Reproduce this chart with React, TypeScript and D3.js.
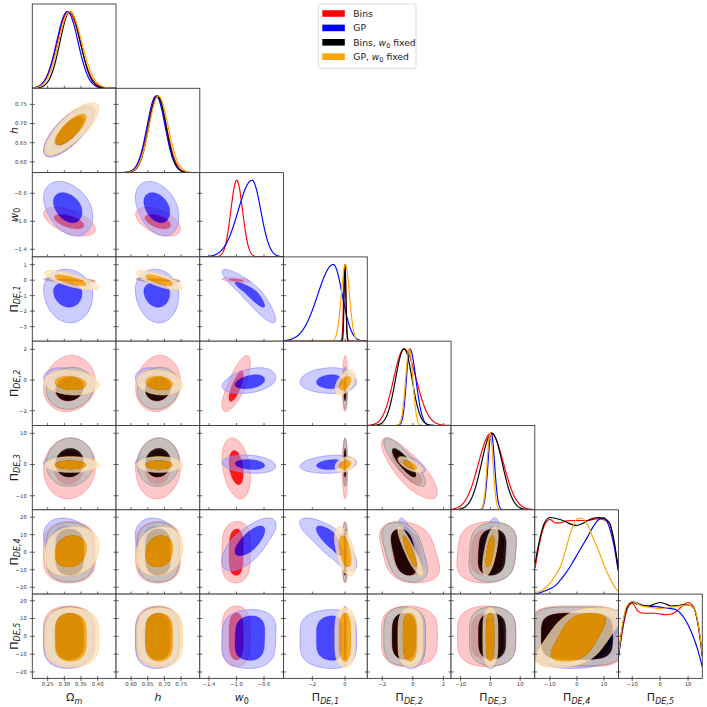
import React from 'react';
import * as d3 from 'd3';

// ---------------- data ----------------
const PARAM_KEYS = ['Om', 'h', 'w0', 'P1', 'P2', 'P3', 'P4', 'P5'];
const X_DOMAINS: [number, number][] = [
  [0.204, 0.455], [0.555, 0.806], [-1.534, -0.316], [-3.76, 1.36],
  [-2.98, 2.5], [-13.2, 14.9], [-15.6, 15.4], [-14.9, 15.1],
];
const Y_DOMAINS: ([number, number] | null)[] = [
  null, [0.572, 0.792], [-1.509, -0.304], [-3.94, 1.5],
  [-2.96, 2.53], [-14.5, 12.5], [-23.9, 24.2], [-23.6, 23.7],
];
const X_TICKS = [
  [0.25, 0.3, 0.35, 0.4], [0.6, 0.65, 0.7, 0.75], [-1.4, -1.0, -0.6], [-2, 0],
  [-2, 0, 2], [-10, 0, 10], [-10, 0, 10], [-10, 0, 10],
];
const Y_TICKS = [
  [], [0.6, 0.65, 0.7, 0.75], [-1.4, -1.0, -0.6], [-3, -2, -1, 0, 1],
  [-2, 0, 2], [-10, 0, 10], [-20, -10, 0, 10, 20], [-20, -10, 0, 10, 20],
];
const TICK_DECIMALS = [2, 2, 1, 0, 0, 0, 0, 0];

const SERIES_NAMES = ['Bins', 'GP', 'Bins, w0 fixed', 'GP, w0 fixed'];

// 1D marginals (mode, sigma left, sigma right) for the smooth parameters
const PEAK_BINS = [[0.312, 0.033, 0.035], [0.678, 0.028, 0.028], [-0.997, 0.085, 0.085], [-0.02, 0.07, 0.07], [-0.57, 0.69, 0.79], [0.2, 4.2, 4.2]];
const PEAK_GP = [[0.309, 0.032, 0.032], [0.675, 0.027, 0.027], [-0.775, 0.2, 0.128], [-0.72, 0.95, 0.55], [-0.2, 0.22, 0.4], [0.3, 1.1, 1.1]];
const PEAK_BINS_FIXED = [[0.317, 0.03, 0.031], [0.679, 0.026, 0.026], null, [0.0, 0.055, 0.055], [-0.57, 0.56, 0.52], [0.5, 3.5, 3.5]];
const PEAK_GP_FIXED = [[0.316, 0.033, 0.036], [0.682, 0.028, 0.029], null, [0.02, 0.25, 0.25], [-0.23, 0.24, 0.23], [-0.1, 1.0, 1.0]];

// 1D marginals read point by point for the flat parameters
const GRID_P4 = [-15.5, -13.5, -12, -10, -8, -6, -4, -2, 0, 2, 4, 6, 8, 10, 12, 13.5, 15.3];
const P4_BINS = [0.34, 0.72, 0.9, 0.975, 0.93, 0.93, 0.955, 0.96, 0.96, 0.96, 0.96, 0.975, 0.985, 0.97, 0.93, 0.72, 0.32];
const P4_GP = [0.0, 0.02, 0.04, 0.07, 0.11, 0.19, 0.28, 0.39, 0.51, 0.63, 0.75, 0.88, 0.97, 0.995, 0.87, 0.67, 0.3];
const P4_BINS_FIXED = [0.4, 0.76, 0.93, 1.0, 0.99, 0.97, 0.94, 0.91, 0.895, 0.92, 0.96, 0.99, 1.0, 0.99, 0.93, 0.74, 0.33];
const P4_GP_FIXED = [0.02, 0.04, 0.07, 0.14, 0.24, 0.37, 0.6, 0.84, 0.98, 0.99, 0.9, 0.73, 0.57, 0.38, 0.22, 0.12, 0.03];

const GRID_P5 = [-14.9, -13.5, -12, -10, -8, -6, -4, -2, 0, 2, 4, 6, 8, 10, 12, 13.5, 15.1];
const P5_BINS = [0.29, 0.62, 0.88, 0.98, 0.88, 0.85, 0.85, 0.85, 0.84, 0.83, 0.84, 0.88, 0.95, 0.99, 0.93, 0.72, 0.29];
const P5_GP = [0.29, 0.66, 0.92, 1.0, 0.98, 0.95, 0.94, 0.94, 0.93, 0.92, 0.91, 0.89, 0.82, 0.7, 0.53, 0.37, 0.15];
const P5_BINS_FIXED = [0.31, 0.68, 0.92, 0.99, 0.97, 0.95, 0.945, 0.97, 0.99, 0.97, 0.945, 0.95, 0.96, 0.96, 0.92, 0.72, 0.3];
const P5_GP_FIXED = [0.32, 0.7, 0.94, 1.0, 0.97, 0.94, 0.93, 0.92, 0.91, 0.92, 0.93, 0.94, 0.95, 0.96, 0.92, 0.74, 0.32];

// 2D contours: centre, 68% half-widths (low, high), 95% half-widths (low, high), squareness
const CONT_BINS = [
  [0.313, 0.044, 0.046, 0.075, 0.08, 2], [0.68, 0.039, 0.039, 0.066, 0.068, 2],
  [-1.0, 0.11, 0.1, 0.21, 0.2, 2], [0.0, 0.09, 0.09, 0.16, 0.16, 2],
  [-0.4, 1.0, 1.0, 1.65, 2.0, 2], [-1.0, 5.5, 5.5, 10.0, 9.5, 2],
  [0, 13.3, 13.3, 17.5, 17.5, 4], [0, 13.3, 13.3, 17, 17, 4],
];
const CONT_GP = [
  [0.31, 0.043, 0.043, 0.072, 0.075, 2], [0.677, 0.039, 0.039, 0.064, 0.066, 2],
  [-0.79, 0.23, 0.2, 0.42, 0.36, 2], [-0.75, 1.0, 0.62, 2.0, 1.45, 2],
  [-0.15, 0.42, 0.5, 0.72, 0.95, 2], [0.0, 1.6, 1.6, 2.8, 3.0, 2],
  [6.5, 8.5, 8.5, 17, 13, 2.2], [-1, 12.5, 12.5, 17, 16, 4],
];
const CONT_BINS_FIXED = [
  [0.316, 0.042, 0.042, 0.07, 0.072, 2], [0.681, 0.038, 0.038, 0.062, 0.063, 2],
  null, [0.0, 0.07, 0.07, 0.13, 0.13, 2],
  [-0.55, 0.8, 0.75, 1.35, 1.38, 2], [0.5, 4.5, 4.7, 7.5, 8, 2],
  [0, 13.2, 13.2, 17, 17, 4], [0, 13, 13, 16.5, 16.5, 4],
];
const CONT_GP_FIXED = [
  [0.318, 0.046, 0.048, 0.077, 0.085, 2], [0.684, 0.04, 0.041, 0.067, 0.07, 2],
  null, [0.0, 0.36, 0.36, 0.62, 0.62, 2],
  [-0.2, 0.45, 0.45, 0.77, 0.85, 2], [-0.1, 1.4, 1.4, 2.4, 2.6, 2],
  [0.5, 9, 9, 14, 14, 2.5], [-0.5, 13.5, 13.5, 16.8, 16.5, 4],
];

// correlations (row parameter vs column parameter)
const RHO_BINS = [
  [], [0.75], [-0.55, -0.5], [-0.4, -0.4, -0.5], [0.1, 0.1, 0.75, 0.0],
  [0.05, 0.05, -0.3, 0.0, -0.8], [0, 0, 0.05, 0, -0.3, 0.1], [0, 0, 0, 0, 0, 0, 0],
];
const RHO_GP = [
  [], [0.72], [-0.35, -0.35], [-0.1, -0.1, -0.9], [-0.3, -0.3, 0.35, 0.0],
  [-0.15, -0.15, -0.2, 0.2, -0.6], [-0.2, -0.2, 0.7, -0.8, -0.85, 0.5], [0, 0, 0.05, 0, 0, 0, 0.5],
];
const RHO_BINS_FIXED = [
  [], [0.75], [0, 0], [-0.5, -0.5, 0], [0.1, 0.1, 0, 0.0],
  [0.05, 0.05, 0, 0.0, -0.85], [0, 0, 0, 0, -0.4, 0.1], [0, 0, 0, 0, 0, 0, 0],
];
const RHO_GP_FIXED = [
  [], [0.78], [0, 0], [-0.75, -0.75, 0], [-0.15, -0.15, 0, 0.5],
  [0, 0, 0, 0.3, -0.7], [0.15, 0.15, 0, -0.5, -0.9, 0.6], [0, 0, 0, 0, 0, 0, 0.55],
];

const PEAKS = [PEAK_BINS, PEAK_GP, PEAK_BINS_FIXED, PEAK_GP_FIXED];
const P4_CURVES = [P4_BINS, P4_GP, P4_BINS_FIXED, P4_GP_FIXED];
const P5_CURVES = [P5_BINS, P5_GP, P5_BINS_FIXED, P5_GP_FIXED];
const CONTS = [CONT_BINS, CONT_GP, CONT_BINS_FIXED, CONT_GP_FIXED];
const RHOS = [RHO_BINS, RHO_GP, RHO_BINS_FIXED, RHO_GP_FIXED];

// ---------------- style ----------------
const LEFT = 32.3, TOP = 4, CW = 83.75, CH = 84.3;
const LINE_COL = ['#ff0000', '#0000ff', '#000000', '#ffa500'];
const PALE_COL = ['#ff9999', '#9999ff', '#bdbdbd', '#ffe6bd'];
const EDGE_COL = ['#ff8a8a', '#8a8aff', '#8a8a8a', '#ffcf80'];
const A_OUT = [0.55, 0.5, 0.8, 0.75];
const A_IN = [0.9, 0.72, 0.87, 0.85];
const FRAME = '#3a3a3a';
const FONT = "'DejaVu Sans', sans-serif";

const fmt = (v: number, d: number) => (v < 0 ? '\u2212' : '') + Math.abs(v).toFixed(d);

function labelTspans(k: number, sub: number) {
  const key = PARAM_KEYS[k];
  if (key === 'Om') return [<tspan key="a">Ω</tspan>, <tspan key="b" fontStyle="italic" fontSize={sub} dy={2.5}>m</tspan>];
  if (key === 'h') return [<tspan key="a" fontStyle="italic">h</tspan>];
  if (key === 'w0') return [<tspan key="a" fontStyle="italic">w</tspan>, <tspan key="b" fontSize={sub} dy={2.5}>0</tspan>];
  return [<tspan key="a">Π</tspan>, <tspan key="b" fontStyle="italic" fontSize={sub} dy={2.5}>{'DE,' + key.slice(1)}</tspan>];
}

function oneD(s: number, k: number): [number, number][] | null {
  if (k === 6) return GRID_P4.map((x, i) => [x, P4_CURVES[s][i]]);
  if (k === 7) return GRID_P5.map((x, i) => [x, P5_CURVES[s][i]]);
  const pk = PEAKS[s][k];
  if (!pk) return null;
  const [m, sl, sr] = pk;
  const dom = X_DOMAINS[k];
  return d3.range(401).map((i) => {
    const x = dom[0] + ((dom[1] - dom[0]) * i) / 400;
    const sg = x < m ? sl : sr;
    return [x, Math.exp(-0.5 * ((x - m) / sg) ** 2)] as [number, number];
  });
}

function contour(cx: number[], cy: number[], rho: number, level: number): [number, number][] {
  const [mx, lx68, hx68, lx95, hx95, px] = cx;
  const [my, ly68, hy68, ly95, hy95, py] = cy;
  const lx = level ? lx95 : lx68, hx = level ? hx95 : hx68;
  const ly = level ? ly95 : ly68, hy = level ? hy95 : hy68;
  const r = Math.sqrt(1 - rho * rho);
  return d3.range(160).map((i) => {
    const th = (2 * Math.PI * i) / 160;
    const c = Math.cos(th), s = Math.sin(th);
    const a = Math.sign(c) * Math.pow(Math.abs(c), 2 / px);
    const b = Math.sign(s) * Math.pow(Math.abs(s), 2 / py);
    const u = r * a + rho * b;
    const v = b;
    return [mx + (u < 0 ? u * lx : u * hx), my + (v < 0 ? v * ly : v * hy)] as [number, number];
  });
}

export default function App() {
  const n = PARAM_KEYS.length;
  const panels: React.ReactNode[] = [];
  const defs: React.ReactNode[] = [];

  for (let i = 0; i < n; i++) {
    for (let j = 0; j <= i; j++) {
      const x0 = LEFT + j * CW, y0 = TOP + i * CH;
      const xs = d3.scaleLinear().domain(X_DOMAINS[j]).range([x0, x0 + CW]);
      const id = `clip-${i}-${j}`;
      defs.push(<clipPath id={id} key={id}><rect x={x0} y={y0} width={CW} height={CH} /></clipPath>);
      const content: React.ReactNode[] = [];
      if (i === j) {
        const ys = d3.scaleLinear().domain([0, 1.1]).range([y0 + CH, y0]);
        const curve = i >= 6 ? d3.curveMonotoneX : d3.curveLinear;
        const line = d3.line<[number, number]>().x((d) => xs(d[0])).y((d) => ys(d[1])).curve(curve);
        for (let s = 0; s < 4; s++) {
          const pts = oneD(s, i);
          if (!pts) continue;
          content.push(<path key={s} d={line(pts) || ''} fill="none" stroke={LINE_COL[s]} strokeWidth={1.15} />);
        }
      } else {
        const ys = d3.scaleLinear().domain(Y_DOMAINS[i] as [number, number]).range([y0 + CH, y0]);
        const line = d3.line<[number, number]>().x((d) => xs(d[0])).y((d) => ys(d[1])).curve(d3.curveLinearClosed);
        for (let s = 0; s < 4; s++) {
          const cx = CONTS[s][j], cy = CONTS[s][i];
          if (!cx || !cy) continue;
          const rho = RHOS[s][i][j];
          const outer = line(contour(cx as number[], cy as number[], rho, 1)) || '';
          const inner = line(contour(cx as number[], cy as number[], rho, 0)) || '';
          content.push(
            <g key={s}>
              <path d={outer + inner} fill={PALE_COL[s]} fillOpacity={A_OUT[s]} fillRule="evenodd" />
              <path d={inner} fill={LINE_COL[s]} fillOpacity={A_IN[s]} />
              <path d={outer} fill="none" stroke={EDGE_COL[s]} strokeWidth={0.7} />
              <path d={inner} fill="none" stroke={LINE_COL[s]} strokeOpacity={0.5} strokeWidth={0.5} />
            </g>
          );
        }
      }
      // ticks
      const ticks: React.ReactNode[] = [];
      X_TICKS[j].forEach((t, k) => {
        const x = xs(t);
        ticks.push(<line key={'x' + k} x1={x} x2={x} y1={y0 + CH - 2.5} y2={y0 + CH + 2.5} stroke={FRAME} strokeWidth={0.8} />);
        if (i === n - 1) {
          ticks.push(<text key={'xl' + k} x={x} y={y0 + CH + 7.6} fontSize={5.3} fill="#333" textAnchor="middle" fontFamily={FONT}>{fmt(t, TICK_DECIMALS[j])}</text>);
        }
      });
      if (i > 0) {
        const ysT = d3.scaleLinear().domain(Y_DOMAINS[i] as [number, number]).range([y0 + CH, y0]);
        Y_TICKS[i].forEach((t, k) => {
          const y = ysT(t);
          ticks.push(<line key={'y' + k} x1={x0 - 2.5} x2={x0 + 2.5} y1={y} y2={y} stroke={FRAME} strokeWidth={0.8} />);
          if (j === 0) {
            ticks.push(<text key={'yl' + k} x={x0 - 5.5} y={y + 1.9} fontSize={5.3} fill="#333" textAnchor="end" fontFamily={FONT}>{fmt(t, TICK_DECIMALS[i])}</text>);
          }
        });
      }
      panels.push(
        <g key={`p-${i}-${j}`}>
          <rect x={x0} y={y0} width={CW} height={CH} fill="#fff" />
          <g clipPath={`url(#${id})`}>{content}</g>
          <rect x={x0} y={y0} width={CW} height={CH} fill="none" stroke={FRAME} strokeWidth={0.9} />
          {ticks}
        </g>
      );
    }
  }

  // axis labels
  const labels: React.ReactNode[] = [];
  for (let k = 0; k < n; k++) {
    const cx = LEFT + k * CW + CW / 2;
    labels.push(
      <text key={'xl' + k} x={cx} y={701} fontSize={11} fontFamily={FONT} textAnchor="middle" fill="#222">
        {labelTspans(k, 8)}
      </text>
    );
    if (k > 0) {
      const cy = TOP + k * CH + CH / 2;
      labels.push(
        <text key={'yl' + k} x={0} y={0} transform={`translate(17.5,${cy}) rotate(-90)`} fontSize={11} fontFamily={FONT} textAnchor="middle" fill="#222">
          {labelTspans(k, 8)}
        </text>
      );
    }
  }

  // legend
  const legX = 318.3, legY = 4, rowH = 14.4;
  const legend = (
    <g>
      <rect x={legX} y={legY} width={97.7} height={64.3} rx={2} fill="#fff" stroke="#d0d0d0" strokeWidth={0.8} />
      {SERIES_NAMES.map((name, s) => {
        const cy = legY + 9.5 + s * rowH;
        const parts = name.split('w0');
        return (
          <g key={name}>
            <rect x={legX + 4} y={cy - 3.3} width={22.5} height={6.6} fill={LINE_COL[s]} />
            <text x={legX + 35} y={cy + 3.3} fontSize={9.2} fontFamily={FONT} fill="#222">
              {parts.length === 1 ? name : [
                <tspan key="a">{parts[0]}</tspan>,
                <tspan key="b" fontStyle="italic">w</tspan>,
                <tspan key="c" fontSize={6.5} dy={2}>0</tspan>,
                <tspan key="d" dy={-2}>{parts[1]}</tspan>,
              ]}
            </text>
          </g>
        );
      })}
    </g>
  );

  return (
    <svg width={707} height={707} style={{ position: 'absolute', left: 0, top: 0, background: '#fff' }}>
      <defs>{defs}</defs>
      <rect x={0} y={0} width={707} height={707} fill="#fff" />
      {panels}
      {labels}
      {legend}
    </svg>
  );
}
